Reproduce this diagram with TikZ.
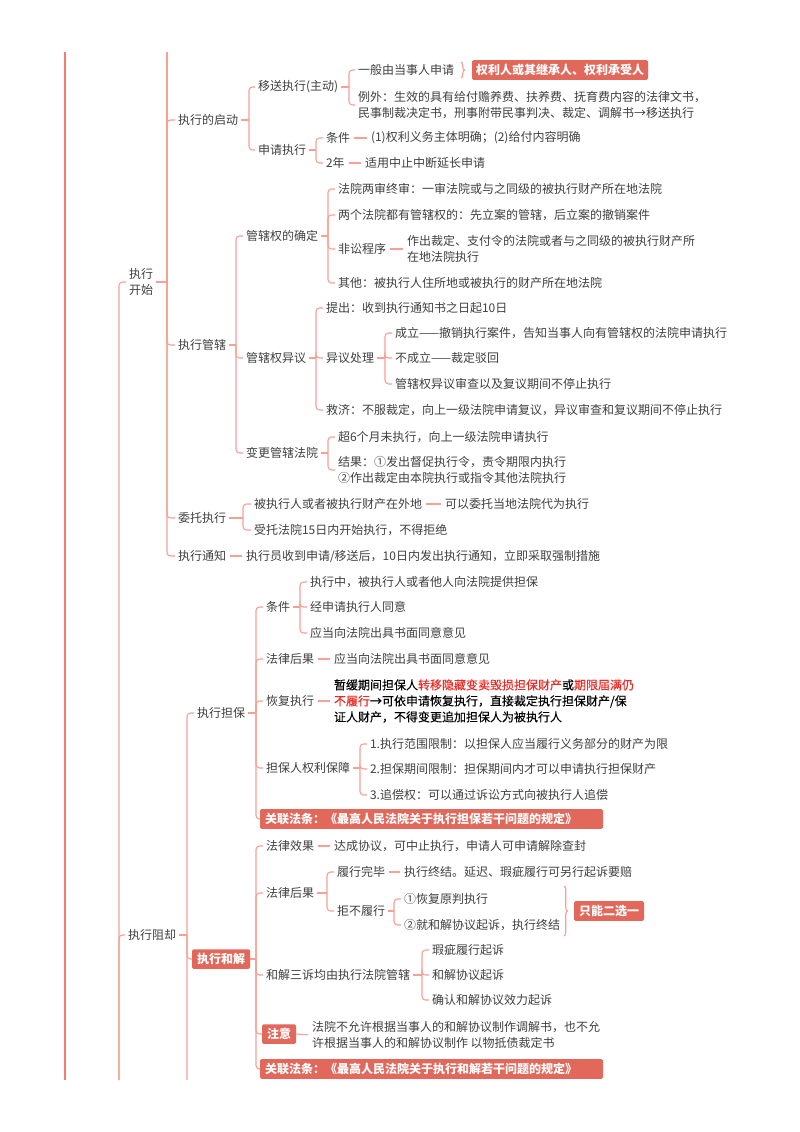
\documentclass[tikz,border=0pt]{standalone}
\usepackage{fontspec}
\setmainfont{Noto Sans CJK SC}
\newfontfamily\medfont{Noto Sans CJK SC}[FakeBold=0.2]
\usetikzlibrary{decorations.pathreplacing}
\definecolor{txt}{HTML}{404040}
\definecolor{linec}{HTML}{F7A194}
\definecolor{mainc}{HTML}{F27D70}
\definecolor{boxc}{HTML}{E2685B}
\definecolor{redt}{HTML}{EE2A24}
\newcommand\mfs{\fontsize{12}{16}\selectfont}
\tikzset{
  tx/.style={anchor=west, inner sep=0pt, outer sep=0pt, text=txt, font=\mfs, align=left},
  hb/.style={tx, text=black, font=\mfs\medfont},
  rb/.style={anchor=west, fill=boxc, text=white, font=\mfs\bfseries, inner xsep=5pt, inner ysep=4pt, outer sep=0pt, rounded corners=1.5pt},
  rbw/.style={rb, text width=333pt, align=left},
  ln/.style={draw=linec, line width=1.1pt},
  mainln/.style={draw=mainc, line width=2.6pt},
  tk/.style={ln, rounded corners=3.5pt, shorten >=3pt},
  tkb/.style={ln, rounded corners=3.5pt},
  lead/.style={ln, shorten <=3pt},
  dashln/.style={ln, shorten <=4pt, shorten >=4pt},
  brc/.style={ln, decorate, decoration={brace, amplitude=3.5pt}},
}
\begin{document}
\begin{tikzpicture}[x=1pt,y=-1pt]
\useasboundingbox (0,0) rectangle (800,1132);
\fill[white] (0,0) rectangle (800,1132);

% ---------- long left lines ----------
\coordinate (m1) at (65,52);
\coordinate (m2) at (65,1080);
\draw[mainln] (m1) -- (m2);

\node[tx] (kaishi) at (129,282) {执行\\开始};
\node[tx] (zuque) at (128,935) {执行阻却};
\coordinate (jAbot) at (119,1080);
\draw[tk] (jAbot) |- (kaishi.west);
\draw[tk] (jAbot) |- (zuque.west);

% ---------- 执行开始 ----------
\coordinate (jB) at (167,282);
\coordinate (jBtop) at (167,52);
\node[tx] (qidong) at (178,120) {执行的启动};
\node[tx] (guanxia) at (178,345) {执行管辖};
\node[tx] (weituo) at (178,518) {委托执行};
\node[tx] (tongzhi) at (178,556) {执行通知};
\draw[lead] (kaishi.east) -- (jB);
\draw[ln] (jBtop) -- (jB);
\foreach \c in {qidong,guanxia,weituo,tongzhi} \draw[tk] (jB) |- (\c.west);

% 执行的启动
\coordinate (jC) at (249,120);
\node[tx] (yisong) at (258,87) {移送执行(主动)};
\node[tx] (shenqing) at (258,150) {申请执行};
\draw[lead] (qidong.east) -- (jC);
\foreach \c in {yisong,shenqing} \draw[tk] (jC) |- (\c.west);

\coordinate (jD) at (349,87);
\node[tx] (yb1) at (358,70) {一般由当事人申请};
\node[tx] (yb2) at (358,105) {例外：生效的具有给付赡养费、扶养费、抚育费内容的法律文书，\\民事制裁决定书，刑事附带民事判决、裁定、调解书→移送执行};
\draw[lead] (yisong.east) -- (jD);
\foreach \c in {yb1,yb2} \draw[tk] (jD) |- (\c.west);
\node[rb, inner xsep=4pt] (quanli) at (472,70) {权利人或其继承人、权利承受人};
\coordinate (brA1) at (461,62);
\coordinate (brA2) at (461,78);
\draw[brc] (brA1) -- (brA2);

\coordinate (jE) at (316,150);
\node[tx] (tj) at (326,138) {条件};
\node[tx] (nian) at (326,163) {2年};
\draw[lead] (shenqing.east) -- (jE);
\foreach \c in {tj,nian} \draw[tk] (jE) |- (\c.west);
\node[tx] (tj1) at (371,138) {(1)权利义务主体明确；(2)给付内容明确};
\node[tx] (nian1) at (365,163) {适用中止中断延长申请};
\draw[dashln] (tj.east) -- (tj1.west);
\draw[dashln] (nian.east) -- (nian1.west);

% 执行管辖
\coordinate (jF) at (236,345);
\node[tx] (gq) at (246,236) {管辖权的确定};
\node[tx] (gy) at (246,358) {管辖权异议};
\node[tx] (bg) at (246,453) {变更管辖法院};
\draw[lead] (guanxia.east) -- (jF);
\foreach \c in {gq,gy,bg} \draw[tk] (jF) |- (\c.west);

\coordinate (jG) at (328,236);
\node[tx] (g1) at (338,189) {法院两审终审：一审法院或与之同级的被执行财产所在地法院};
\node[tx] (g2) at (338,215) {两个法院都有管辖权的：先立案的管辖，后立案的撤销案件};
\node[tx] (g3) at (338,249) {非讼程序};
\node[tx] (g4) at (338,283) {其他：被执行人住所地或被执行的财产所在地法院};
\draw[lead] (gq.east) -- (jG);
\foreach \c in {g1,g2,g3,g4} \draw[tk] (jG) |- (\c.west);
\node[tx] (g31) at (407,249) {作出裁定、支付令的法院或者与之同级的被执行财产所\\在地法院执行};
\draw[dashln] (g3.east) -- (g31.west);

\coordinate (jH) at (316,358);
\node[tx] (y1) at (326,308) {提出：收到执行通知书之日起10日};
\node[tx] (y2) at (326,358) {异议处理};
\node[tx] (y3) at (326,410) {救济：不服裁定，向上一级法院申请复议，异议审查和复议期间不停止执行};
\draw[lead] (gy.east) -- (jH);
\foreach \c in {y1,y2,y3} \draw[tk] (jH) |- (\c.west);

\coordinate (jI) at (385,358);
\node[tx] (y21) at (395,333) {成立——撤销执行案件，告知当事人向有管辖权的法院申请执行};
\node[tx] (y22) at (395,358) {不成立——裁定驳回};
\node[tx] (y23) at (395,384) {管辖权异议审查以及复议期间不停止执行};
\draw[lead] (y2.east) -- (jI);
\foreach \c in {y21,y22,y23} \draw[tk] (jI) |- (\c.west);

\coordinate (jJ) at (328,453);
\node[tx] (b1) at (338,437) {超6个月未执行，向上一级法院申请执行};
\node[tx] (b2) at (338,470) {结果：①发出督促执行令，责令期限内执行\\②作出裁定由本院执行或指令其他法院执行};
\draw[lead] (bg.east) -- (jJ);
\foreach \c in {b1,b2} \draw[tk] (jJ) |- (\c.west);

% 委托执行
\coordinate (jK) at (243,518);
\node[tx] (w1) at (254,504) {被执行人或者被执行财产在外地};
\node[tx] (w2) at (254,530) {受托法院15日内开始执行，不得拒绝};
\draw[lead] (weituo.east) -- (jK);
\foreach \c in {w1,w2} \draw[tk] (jK) |- (\c.west);
\node[tx] (w11) at (445,504) {可以委托当地法院代为执行};
\draw[dashln] (w1.east) -- (w11.west);

% 执行通知
\node[tx] (tz1) at (246,556) {执行员收到申请/移送后，10日内发出执行通知，立即采取强制措施};
\draw[dashln] (tongzhi.east) -- (tz1.west);

% ---------- 执行阻却 ----------
\coordinate (jL) at (187,935);
\coordinate (jLbot) at (187,1080);
\node[tx] (danbao) at (197,713) {执行担保};
\node[rb] (hejie) at (192,959) {执行和解};
\draw[lead] (zuque.east) -- (jL);
\draw[tk] (jLbot) |- (danbao.west);
\draw[tkb] (jL) |- (hejie.west);

% 执行担保
\coordinate (jM) at (256,713);
\node[tx] (d1) at (266,607) {条件};
\node[tx] (d2) at (266,659) {法律后果};
\node[tx] (d3) at (266,701) {恢复执行};
\node[tx] (d4) at (266,768) {担保人权利保障};
\node[rbw] (d5) at (260,819) {关联法条：《最高人民法院关于执行担保若干问题的规定》};
\draw[lead] (danbao.east) -- (jM);
\foreach \c in {d1,d2,d3,d4} \draw[tk] (jM) |- (\c.west);
\draw[tkb] (jM) |- (d5.west);

\coordinate (jN) at (300,607);
\node[tx] (d11) at (310,582) {执行中，被执行人或者他人向法院提供担保};
\node[tx] (d12) at (310,607) {经申请执行人同意};
\node[tx] (d13) at (310,633) {应当向法院出具书面同意意见};
\draw[lead] (d1.east) -- (jN);
\foreach \c in {d11,d12,d13} \draw[tk] (jN) |- (\c.west);

\node[tx] (d21) at (334,659) {应当向法院出具书面同意意见};
\draw[dashln] (d2.east) -- (d21.west);

\node[hb] (d31) at (334,701) {暂缓期间担保人{\color{redt}转移隐藏变卖毁损担保财产}或{\color{redt}期限届满仍}\\{\color{redt}不履行}→可依申请恢复执行，直接裁定执行担保财产/保\\证人财产，不得变更追加担保人为被执行人};
\draw[dashln] (d3.east) -- (d31.west);

\coordinate (jO) at (360,768);
\node[tx] (d41) at (370,744) {1.执行范围限制：以担保人应当履行义务部分的财产为限};
\node[tx] (d42) at (370,769) {2.担保期间限制：担保期间内才可以申请执行担保财产};
\node[tx] (d43) at (370,795) {3.追偿权：可以通过诉讼方式向被执行人追偿};
\draw[lead] (d4.east) -- (jO);
\foreach \c in {d41,d42,d43} \draw[tk] (jO) |- (\c.west);

% 执行和解
\coordinate (jP) at (256,959);
\node[tx] (h1) at (266,846) {法律效果};
\node[tx] (h2) at (266,893) {法律后果};
\node[tx] (h3) at (266,975) {和解三诉均由执行法院管辖};
\node[rb] (h4) at (262,1034) {注意};
\node[rbw] (h5) at (260,1069) {关联法条：《最高人民法院关于执行和解若干问题的规定》};
\draw[ln] (hejie.east) -- (jP);
\foreach \c in {h1,h2,h3} \draw[tk] (jP) |- (\c.west);
\foreach \c in {h4,h5} \draw[tkb] (jP) |- (\c.west);

\node[tx] (h11) at (334,846) {达成协议，可中止执行，申请人可申请解除查封};
\draw[dashln] (h1.east) -- (h11.west);

\coordinate (jQ) at (327,893);
\node[tx] (h21) at (337,872) {履行完毕};
\node[tx] (h22) at (337,911) {拒不履行};
\draw[lead] (h2.east) -- (jQ);
\foreach \c in {h21,h22} \draw[tk] (jQ) |- (\c.west);
\node[tx] (h211) at (404,872) {执行终结。延迟、瑕疵履行可另行起诉要赔};
\draw[dashln] (h21.east) -- (h211.west);

\coordinate (jR) at (394,911);
\node[tx] (h221) at (404,899) {①恢复原判执行};
\node[tx] (h222) at (404,925) {②就和解协议起诉，执行终结};
\draw[lead] (h22.east) -- (jR);
\foreach \c in {h221,h222} \draw[tk] (jR) |- (\c.west);
\coordinate (brB1) at (564,886);
\coordinate (brB2) at (564,936);
\draw[brc] (brB1) -- (brB2);
\node[rb] (zhineng) at (574,911) {只能二选一};

\coordinate (jS) at (422,975);
\node[tx] (h31) at (432,950) {瑕疵履行起诉};
\node[tx] (h32) at (432,975) {和解协议起诉};
\node[tx] (h33) at (432,1000) {确认和解协议效力起诉};
\draw[lead] (h3.east) -- (jS);
\foreach \c in {h31,h32,h33} \draw[tk] (jS) |- (\c.west);

\node[tx] (h41) at (312,1035) {法院不允许根据当事人的和解协议制作调解书，也不允\\许根据当事人的和解协议制作 以物抵债裁定书};
\draw[ln, shorten >=4pt] (h4.east) -- (h41.west);
\end{tikzpicture}
\end{document}
